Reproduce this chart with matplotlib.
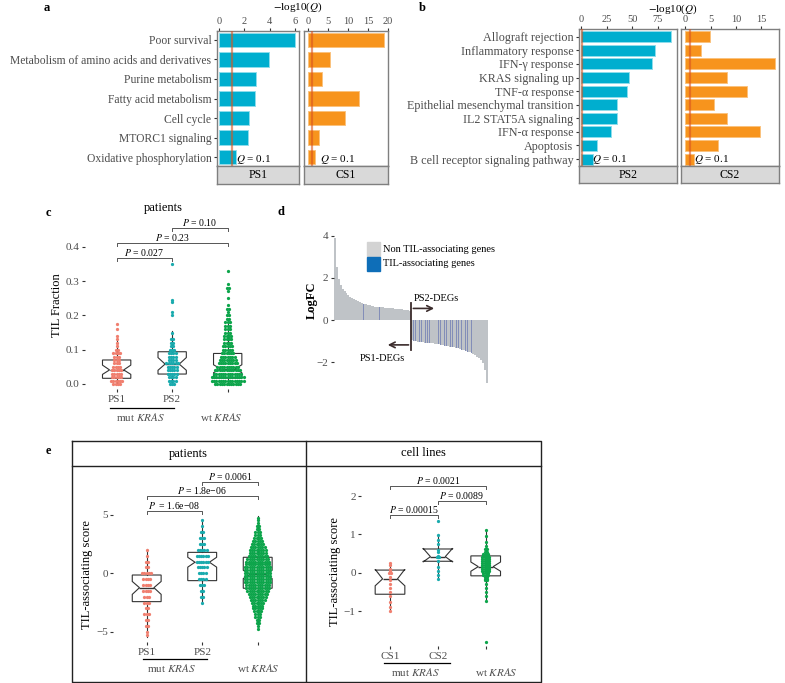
import numpy as np
import matplotlib.pyplot as plt
from matplotlib.patches import Rectangle

W, H = 785, 683
plt.rcParams['font.family'] = ['Liberation Serif', 'DejaVu Serif']
plt.rcParams['mathtext.fontset'] = 'stix'

# ---------- data ----------
# a
terms_a = ['Poor survival', 'Metabolism of amino acids and derivatives', 'Purine metabolism',
           'Fatty acid metabolism', 'Cell cycle', 'MTORC1 signaling', 'Oxidative phosphorylation']
ps1_q = [6.03, 3.97, 2.89, 2.87, 2.36, 2.25, 1.33]
cs1_q = [19.0, 5.5, 3.4, 12.8, 9.2, 2.75, 1.8]
# b
terms_b = ['Allograft rejection', 'Inflammatory response', 'IFN-γ response', 'KRAS signaling up',
           'TNF-α response', 'Epithelial mesenchymal transition', 'IL2 STAT5A signaling',
           'IFN-α response', 'Apoptosis', 'B cell receptor signaling pathway']
ps2_q = [87.8, 72.5, 69.0, 46.5, 45.0, 35.0, 35.0, 29.6, 16.0, 12.0]
cs2_q = [4.9, 3.1, 17.75, 8.3, 12.2, 5.7, 8.3, 14.7, 6.5, 1.7]

# c  (TIL fraction, values binned with counts)
c_ps1_val = [0.00, 0.01, 0.02, 0.03, 0.04, 0.05, 0.06, 0.07, 0.08, 0.09, 0.10, 0.11, 0.12, 0.13, 0.14, 0.16, 0.175]
c_ps1_cnt = [4, 6, 5, 5, 5, 4, 3, 3, 3, 4, 2, 1, 1, 1, 1, 1, 1]
c_ps2_val = [0.00, 0.01, 0.02, 0.03, 0.04, 0.05, 0.06, 0.07, 0.08, 0.09, 0.10, 0.11, 0.12, 0.13, 0.15, 0.20, 0.21, 0.24, 0.245, 0.35]
c_ps2_cnt = [3, 4, 4, 5, 5, 5, 6, 4, 4, 4, 3, 2, 2, 2, 1, 1, 1, 1, 1, 1]
c_wt_val = [0.00, 0.01, 0.02, 0.03, 0.04, 0.05, 0.06, 0.07, 0.08, 0.09, 0.10, 0.11, 0.12, 0.13, 0.14,
            0.15, 0.16, 0.17, 0.18, 0.19, 0.20, 0.21, 0.22, 0.23, 0.25, 0.27, 0.28, 0.29, 0.33]
c_wt_cnt = [12, 15, 15, 13, 12, 10, 9, 8, 7, 6, 5, 5, 4, 4, 4, 3, 3, 3, 3, 2, 2, 1, 2, 1, 1, 1, 2, 1, 1]
c_stats = [  # q1, med, q3, cilo, cihi, whislo, whishi
    (0.0166, 0.041, 0.070, 0.028, 0.055, 0.0, 0.125),
    (0.029, 0.058, 0.094, 0.040, 0.077, 0.0, 0.155),
    (0.017, 0.044, 0.089, 0.033, 0.056, 0.0, 0.190),
]

# d  (sorted logFC, one bar per gene bin)
logfc = [3.9, 2.5, 1.95, 1.65, 1.48, 1.36, 1.26, 1.18, 1.11, 1.05, 1.0, 0.95, 0.9, 0.86, 0.82, 0.78,
         0.75, 0.72, 0.70, 0.68, 0.66, 0.64, 0.63, 0.62, 0.61, 0.60, 0.59, 0.58, 0.57, 0.56, 0.55,
         0.54, 0.53, 0.52, 0.51, 0.50, 0.49, 0.48, 0.46, 0.44,
         -0.95, -0.98, -1.0, -1.02, -1.03, -1.05, -1.06, -1.07, -1.08, -1.09, -1.1, -1.11, -1.12,
         -1.14, -1.16, -1.18, -1.19, -1.21, -1.22, -1.24, -1.26, -1.27, -1.29, -1.31, -1.34, -1.37,
         -1.40, -1.43, -1.46, -1.5, -1.54, -1.58, -1.63, -1.68, -1.74, -1.81, -1.9, -2.05, -2.35, -3.0]
til_genes = [15, 23, 41, 42, 44, 45, 47, 48, 49, 51, 52, 54, 55, 57, 58, 60, 61, 63, 64, 66, 68, 69, 71]

# e patients
e_ps1_val = [-5.3, -5.0, -4.5, -4.0, -3.5, -3.0, -2.5, -2.0, -1.5, -1.0, -0.5, 0.0, 0.5, 1.0, 1.5, 2.0]
e_ps1_cnt = [1, 1, 2, 2, 3, 2, 3, 3, 4, 4, 4, 5, 2, 2, 1, 1]
e_ps2_val = [-2.5, -2.0, -1.5, -1.0, -0.5, 0.0, 0.5, 1.0, 1.5, 2.0, 2.5, 3.0, 3.5, 4.0, 4.5]
e_ps2_cnt = [1, 2, 2, 3, 4, 4, 5, 6, 6, 5, 3, 3, 2, 1, 1]
e_wt_val = [-4.75, -4.5, -4.25, -4.0, -3.75, -3.5, -3.25, -3.0, -2.75, -2.5, -2.25, -2.0, -1.75, -1.5,
            -1.25, -1.0, -0.75, -0.5, -0.25, 0.0, 0.25, 0.5, 0.75, 1.0, 1.25, 1.5, 1.75, 2.0, 2.25,
            2.5, 2.75, 3.0, 3.25, 3.5, 3.75, 4.0, 4.25, 4.5, 4.75]
e_wt_cnt = [1, 1, 2, 2, 3, 3, 4, 5, 5, 6, 7, 8, 9, 10, 11, 11, 12, 12, 12, 12, 12, 12, 11, 11, 10,
            9, 8, 8, 7, 6, 5, 4, 3, 3, 2, 2, 1, 1, 1]
e_p_stats = [
    (-2.42, -1.23, -0.15, -1.8, -0.7, -5.4, 2.05),
    (-0.63, 0.94, 1.78, 0.52, 1.36, -2.5, 4.55),
    (-1.28, -0.09, 1.36, -0.45, 0.25, -4.75, 4.9),
]
# e cell lines
e_cs1_val = [0.25, 0.2, 0.1, 0.05, 0.0, -0.1, -0.2, -0.3, -0.4, -0.5, -0.6, -0.75, -0.9, -1.0]
e_cs1_cnt = [1, 1, 1, 1, 2, 1, 1, 1, 1, 1, 1, 1, 1, 1]
e_cs2_val = [1.35, 0.99, 0.85, 0.75, 0.6, 0.55, 0.45, 0.42, 0.4, 0.3, 0.15, 0.05, -0.05, -0.17]
e_cs2_cnt = [1, 1, 1, 1, 1, 1, 1, 2, 1, 1, 1, 1, 1, 1]
e_cw_val = [1.11, 0.95, 0.8, 0.7, 0.62, 0.55, 0.5, 0.45, 0.4, 0.35, 0.3, 0.25, 0.2, 0.15, 0.1, 0.05,
            0.0, -0.05, -0.1, -0.15, -0.2, -0.3, -0.4, -0.5, -0.6, -0.74, -1.8]
e_cw_cnt = [1, 1, 1, 1, 2, 2, 3, 3, 4, 4, 4, 4, 4, 4, 4, 4, 3, 3, 2, 2, 2, 1, 1, 1, 1, 1, 1]
e_c_stats = [
    (-0.56, -0.16, 0.07, -0.34, 0.09, -1.0, 0.25),
    (0.30, 0.42, 0.62, 0.28, 0.64, -0.17, 1.0),
    (-0.08, 0.16, 0.44, 0.04, 0.28, -0.74, 1.11),
]

# ---------- styles ----------
BLUE, BLUE_E = '#00AECF', '#8FDDEC'
ORANGE, ORANGE_E = '#F7941D', '#FBC27E'
QLINE = '#D9541E'
C1, C2, C3 = '#F07F6F', '#1AABAE', '#0DA54B'
TXT = '#4D4D4D'
FRAME = '#7F7F7F'

fig = plt.figure(figsize=(W / 100, H / 100), dpi=100)


def rect(l, t, r, b):
    return [l / W, 1 - b / H, (r - l) / W, (b - t) / H]


def facet(box, vals, xlim, ticks, color, edge, ylim, bh, strip, qtext, labels=None, lfs=8.8):
    ax = fig.add_axes(rect(*box))
    y = np.arange(len(vals))
    ax.barh(y, vals, height=bh, color=color, edgecolor=edge, linewidth=0.7, zorder=2)
    ax.axvline(1, color=QLINE, lw=1.6, alpha=0.6, zorder=3)
    ax.set_xlim(xlim)
    ax.set_ylim(ylim)
    ax.xaxis.tick_top()
    ax.set_xticks(ticks)
    ax.tick_params(axis='x', length=2.5, color='#333333', labelsize=7.5, labelcolor=TXT, pad=1)
    if labels is not None:
        ax.set_yticks(y)
        ax.set_yticklabels(labels, fontsize=lfs, color=TXT)
        ax.tick_params(axis='y', length=2.5, color='#333333', pad=1.5)
    else:
        ax.set_yticks([])
    for s in ax.spines.values():
        s.set_color(FRAME)
        s.set_linewidth(1.0)
    ax.text(qtext[0], qtext[1], r'$Q$ = 0.1', fontsize=8, va='center', color='black', zorder=4)
    l, t, r, b = box
    sax = fig.add_axes(rect(l, b, r, b + strip))
    sax.set_facecolor('#D9D9D9')
    sax.set_xticks([])
    sax.set_yticks([])
    for s in sax.spines.values():
        s.set_color(FRAME)
        s.set_linewidth(1.0)
    return ax, sax


# panel a
ax, sax = facet((217, 31, 299, 166), ps1_q, (-0.18, 6.33), [0, 2, 4, 6], BLUE, BLUE_E,
                (6.46, -0.46), 0.74, 18, (1.35, 6.15), terms_a, 8.4)
sax.text(0.5, 0.5, 'PS1', ha='center', va='center', fontsize=8.5, transform=sax.transAxes)
ax, sax = facet((304, 31, 388, 166), cs1_q, (-1.07, 19.9), [0, 5, 10, 15, 20], ORANGE, ORANGE_E,
                (6.46, -0.46), 0.74, 18, (2.9, 6.15))
sax.text(0.5, 0.5, 'CS1', ha='center', va='center', fontsize=8.5, transform=sax.transAxes)

# panel b
ax, sax = facet((579, 29, 677, 166), ps2_q, (-1.95, 93.7), [0, 25, 50, 75], BLUE, BLUE_E,
                (9.51, -0.57), 0.8, 17, (11, 9.0), terms_b, 8.7)
sax.text(0.5, 0.5, 'PS2', ha='center', va='center', fontsize=8.5, transform=sax.transAxes)
ax, sax = facet((681, 29, 779, 166), cs2_q, (-0.85, 18.5), [0, 5, 10, 15], ORANGE, ORANGE_E,
                (9.51, -0.57), 0.8, 17, (1.7, 9.0))
sax.text(0.5, 0.5, 'CS2', ha='center', va='center', fontsize=8.5, transform=sax.transAxes)


def swarm(ax, xpos, vals, cnts, dx, color, s=5.5):
    xs, ys = [], []
    for v, k in zip(vals, cnts):
        off = (np.arange(k) - (k - 1) / 2) * dx
        xs.extend(xpos + off)
        ys.extend([v] * k)
    ax.scatter(xs, ys, s=s, color=color, linewidths=0, zorder=3, clip_on=False)


def boxes(ax, stats, width):
    bs = [dict(q1=q1, med=m, q3=q3, cilo=lo, cihi=hi, whislo=wl, whishi=wh, fliers=[])
          for q1, m, q3, lo, hi, wl, wh in stats]
    ax.bxp(bs, positions=[1, 2, 3], widths=width, shownotches=True, showfliers=False,
           showcaps=False, patch_artist=True, manage_ticks=False,
           boxprops=dict(facecolor='none', edgecolor='#333333', linewidth=0.8),
           medianprops=dict(color='#333333', linewidth=1.0),
           whiskerprops=dict(color='#333333', linewidth=0.8))


def bracket(ax, x1, x2, y, tick, label, fs=7):
    ax.plot([x1, x1, x2, x2], [y - tick, y, y, y - tick], color='#555555', lw=0.7,
            clip_on=False, zorder=4)
    ax.text((x1 + x2) / 2, y, label, ha='center', va='bottom', fontsize=fs, zorder=4)


def plain(ax, yticks, ylabels, xlabels):
    for s in ax.spines.values():
        s.set_visible(False)
    ax.set_yticks(yticks)
    ax.set_yticklabels(ylabels)
    ax.set_xticks([1, 2, 3])
    ax.set_xticklabels(xlabels)
    ax.tick_params(length=2.5, color='#333333', labelsize=8, labelcolor=TXT, pad=1.5)
    ax.patch.set_alpha(0)


# panel c
ax = fig.add_axes(rect(85, 220, 261, 389))
boxes(ax, c_stats, 0.51)
swarm(ax, 1, c_ps1_val, c_ps1_cnt, 0.041, C1)
swarm(ax, 2, c_ps2_val, c_ps2_cnt, 0.041, C2)
swarm(ax, 3, c_wt_val, c_wt_cnt, 0.041, C3)
ax.set_xlim(0.43, 3.6)
ax.set_ylim(-0.0146, 0.478)
plain(ax, [0, 0.1, 0.2, 0.3, 0.4], ['0.0', '0.1', '0.2', '0.3', '0.4'], ['PS1', 'PS2', ''])
bracket(ax, 1, 2, 0.366, 0.008, r'$P$ = 0.027')
bracket(ax, 1, 3, 0.41, 0.008, r'$P$ = 0.23')
bracket(ax, 2, 3, 0.454, 0.008, r'$P$ = 0.10')

# panel d
ax = fig.add_axes(rect(334, 230, 490, 386))
idx = np.arange(len(logfc))
ax.bar(idx, logfc, width=1.0, color='#BFC3C7', linewidth=0)
ax.bar(til_genes, [logfc[i] for i in til_genes], width=0.45, color='#5C6BAF', alpha=0.6, linewidth=0)
ax.set_xlim(-0.5, len(logfc) + 0.6)
ax.set_ylim(-3.13, 4.27)
for s in ax.spines.values():
    s.set_visible(False)
ax.set_xticks([])
ax.set_yticks([-2, 0, 2, 4])
ax.set_yticklabels(['−2', '0', '2', '4'])
ax.tick_params(axis='y', length=2.5, color='#333333', labelsize=8, labelcolor=TXT, pad=1.5)
ax.patch.set_alpha(0)
ax.plot([39.5, 39.5], [0.82, -1.42], color='#3B2C2C', lw=1.3)
ax.annotate('', xy=(53, 0.55), xytext=(39.3, 0.55),
            arrowprops=dict(arrowstyle='->', color='#3B2C2C', lw=1.2))
ax.annotate('', xy=(26, -1.18), xytext=(39.7, -1.18),
            arrowprops=dict(arrowstyle='->', color='#3B2C2C', lw=1.2))
ax.text(52.5, 1.03, 'PS2-DEGs', ha='center', va='center', fontsize=7.5)
ax.text(24.8, -1.82, 'PS1-DEGs', ha='center', va='center', fontsize=7.5)

# panel e patients
ax = fig.add_axes(rect(113.4, 470, 291, 642))
boxes(ax, e_p_stats, 0.52)
swarm(ax, 1, e_ps1_val, e_ps1_cnt, 0.041, C1)
swarm(ax, 2, e_ps2_val, e_ps2_cnt, 0.041, C2)
swarm(ax, 3, e_wt_val, e_wt_cnt, 0.041, C3)
ax.set_xlim(0.4, 3.6)
ax.set_ylim(-5.86, 8.8)
plain(ax, [-5, 0, 5], ['−5', '0', '5'], ['PS1', 'PS2', ''])
bracket(ax, 1, 2, 5.3, 0.25, r'$P$  = 1.6e−08')
bracket(ax, 1, 3, 6.6, 0.25, r'$P$ = 1.8e−06')
bracket(ax, 2, 3, 7.8, 0.25, r'$P$ = 0.0061')

# panel e cell lines
ax = fig.add_axes(rect(361.3, 470, 514.4, 646))
boxes(ax, e_c_stats, 0.62)
swarm(ax, 1, e_cs1_val, e_cs1_cnt, 0.048, C1)
swarm(ax, 2, e_cs2_val, e_cs2_cnt, 0.048, C2)
swarm(ax, 3, e_cw_val, e_cw_cnt, 0.048, C3)
ax.set_xlim(0.4, 3.6)
ax.set_ylim(-1.91, 2.68)
plain(ax, [-1, 0, 1, 2], ['−1', '0', '1', '2'], ['CS1', 'CS2', ''])
bracket(ax, 1, 2, 1.5, 0.08, r'$P$ = 0.00015')
bracket(ax, 2, 3, 1.87, 0.08, r'$P$ = 0.0089')
bracket(ax, 1, 3, 2.27, 0.08, r'$P$ = 0.0021')

# ---------- overlay: labels, frames, legend ----------
ov = fig.add_axes([0, 0, 1, 1])
ov.set_xlim(0, W)
ov.set_ylim(H, 0)
ov.axis('off')

for lab, x, y in [('a', 47, 8), ('b', 422, 8), ('c', 48, 213), ('d', 281, 212), ('e', 48, 451)]:
    ov.text(x, y, lab, fontsize=9, fontweight='bold', ha='center', va='center')

ov.text(298, 7, r'$-$log10($Q$)', fontsize=8, ha='center', va='center')
ov.text(673, 9, r'$-$log10($Q$)', fontsize=8, ha='center', va='center')

# c
ov.text(163, 208, 'patients', fontsize=9, ha='center', va='center')
ov.text(57, 305, 'TIL Fraction', fontsize=9, rotation=90, ha='center', va='center')
ov.plot([110, 174], [407.7, 407.7], color='black', lw=0.9)
ov.text(140.3, 416.7, r'mut $\it{KRAS}$', fontsize=8, color=TXT, ha='center', va='center')
ov.text(221.7, 416.7, r'wt $\it{KRAS}$', fontsize=8, color=TXT, ha='center', va='center')

# d
ov.text(312, 300, 'LogFC', fontsize=9, fontweight='bold', rotation=90, ha='center', va='center')
ov.add_patch(Rectangle((366.7, 242.3), 13.3, 13.7, color='#D3D3D3'))
ov.add_patch(Rectangle((366.7, 257.3), 13.3, 13.7, color='#0E6EB8'))
ov.text(383, 249, 'Non TIL-associating genes', fontsize=7.5, va='center')
ov.text(383, 264, 'TIL-associating genes', fontsize=7.5, va='center')

# e frame
ov.plot([72, 541, 541, 72, 72], [441, 441, 682, 682, 441], color='#222222', lw=1.0)
ov.plot([72, 541], [466, 466], color='#222222', lw=1.0)
ov.plot([305.5, 305.5], [441, 682], color='#222222', lw=1.0)
ov.text(188.7, 453.5, 'patients', fontsize=9, ha='center', va='center')
ov.text(423, 453.5, 'cell lines', fontsize=9, ha='center', va='center')
ov.text(87, 575, 'TIL-associating score', fontsize=9, rotation=90, ha='center', va='center')
ov.text(335, 572, 'TIL-associating score', fontsize=9, rotation=90, ha='center', va='center')
ov.plot([143, 207.3], [659, 659], color='black', lw=0.9)
ov.text(171.7, 668.3, r'mut $\it{KRAS}$', fontsize=8, color=TXT, ha='center', va='center')
ov.text(258, 668.3, r'wt $\it{KRAS}$', fontsize=8, color=TXT, ha='center', va='center')
ov.plot([384, 450], [662.7, 662.7], color='black', lw=0.9)
ov.text(415.8, 671.7, r'mut $\it{KRAS}$', fontsize=8, color=TXT, ha='center', va='center')
ov.text(496.7, 671.7, r'wt $\it{KRAS}$', fontsize=8, color=TXT, ha='center', va='center')

fig.savefig('out.png', dpi=100, facecolor='white')
